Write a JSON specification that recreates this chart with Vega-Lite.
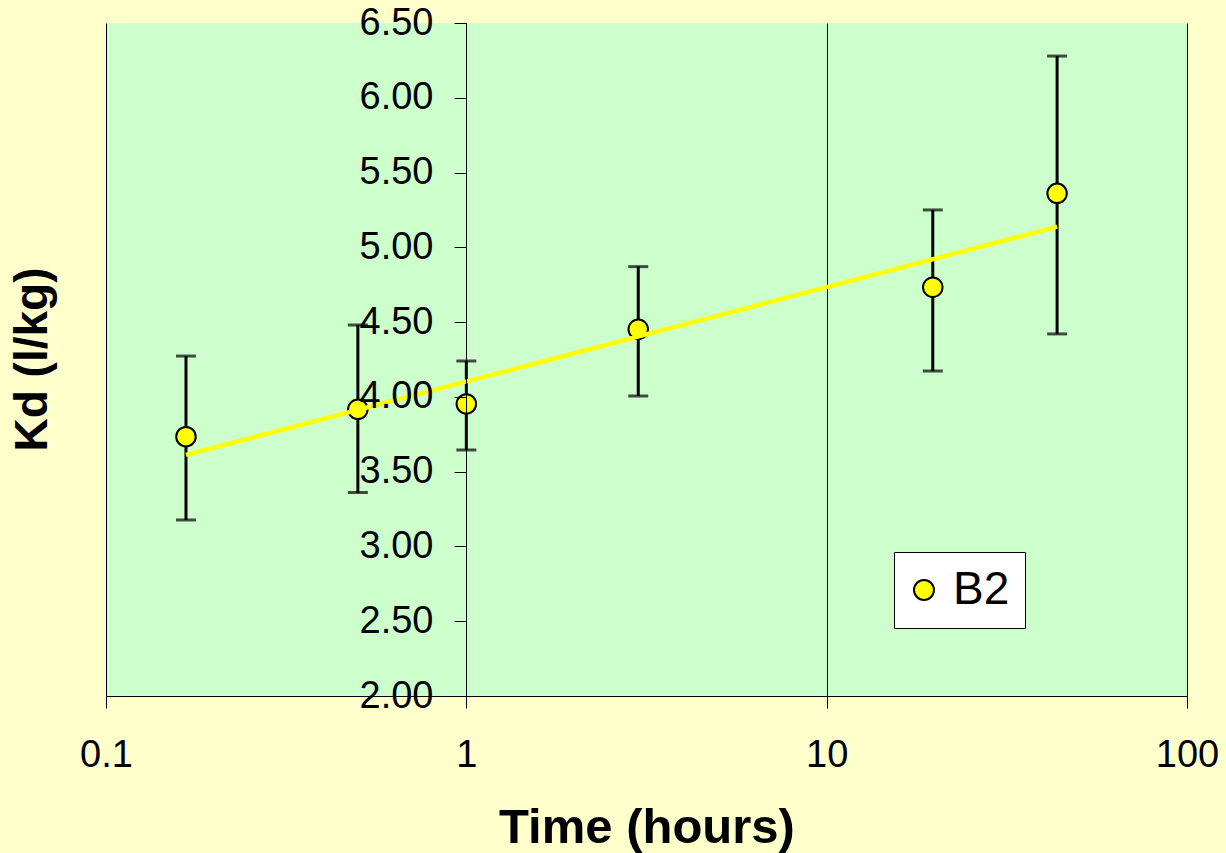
{
  "$schema": "https://vega.github.io/schema/vega-lite/v6.json",
  "width": 1081,
  "height": 673,
  "autosize": {"type": "none"},
  "padding": {"left": 106, "top": 23, "right": 39, "bottom": 157},
  "background": "#FFFFCC",
  "config": {
    "view": {"fill": "#CCFFCC", "stroke": null},
    "font": "Liberation Sans"
  },
  "datasets": {
    "obs": [
      {"t": 0.1667, "kd": 3.734, "lo": 3.177, "hi": 4.273, "series": "B2"},
      {"t": 0.5, "kd": 3.917, "lo": 3.36, "hi": 4.481, "series": "B2"},
      {"t": 1.0, "kd": 3.953, "lo": 3.645, "hi": 4.24, "series": "B2"},
      {"t": 3.0, "kd": 4.452, "lo": 4.006, "hi": 4.871, "series": "B2"},
      {"t": 19.7, "kd": 4.733, "lo": 4.173, "hi": 5.25, "series": "B2"},
      {"t": 43.6, "kd": 5.361, "lo": 4.421, "hi": 6.279, "series": "B2"}
    ],
    "trend": [
      {"t": 0.1667, "kd": 3.612},
      {"t": 43.6, "kd": 5.138}
    ]
  },
  "layer": [
    {
      "data": {"name": "obs"},
      "mark": {
        "type": "errorbar",
        "orient": "vertical",
        "ticks": {"size": 20, "thickness": 3, "color": "#000000"},
        "rule": {"strokeWidth": 3, "color": "#000000"}
      },
      "encoding": {
        "x": {
          "field": "t",
          "type": "quantitative",
          "scale": {"type": "log", "domain": [0.1, 100], "nice": false},
          "axis": {
            "orient": "bottom",
            "values": [0.1, 1, 10, 100],
            "format": "~g",
            "grid": true,
            "gridColor": "#000000",
            "gridWidth": 1,
            "gridOpacity": 1,
            "domainColor": "#000000",
            "domainWidth": 1,
            "tickColor": "#000000",
            "tickSize": 12,
            "tickWidth": 1,
            "labelFontSize": 38,
            "labelFont": "Liberation Sans",
            "labelColor": "#000000",
            "labelPadding": 28,
            "labelFlush": false,
            "labelOverlap": false,
            "title": "Time (hours)",
            "titleFont": "Liberation Sans",
            "titleFontSize": 49,
            "titleFontWeight": "bold",
            "titleColor": "#000000",
            "titleBaseline": "alphabetic",
            "titleY": 146
          }
        },
        "y": {
          "field": "lo",
          "type": "quantitative",
          "scale": {"domain": [2, 6.5], "nice": false, "zero": false},
          "axis": {
            "orient": "left",
            "offset": -360,
            "values": [2, 2.5, 3, 3.5, 4, 4.5, 5, 5.5, 6, 6.5],
            "format": ".2f",
            "grid": false,
            "domainColor": "#000000",
            "domainWidth": 1,
            "tickColor": "#000000",
            "tickSize": 12,
            "tickWidth": 1,
            "labelFontSize": 38,
            "labelFont": "Liberation Sans",
            "labelColor": "#000000",
            "labelPadding": 21,
            "labelFlush": false,
            "labelOverlap": false,
            "title": "Kd (l/kg)",
            "titleFont": "Liberation Sans",
            "titleFontSize": 46,
            "titleFontWeight": "bold",
            "titleColor": "#000000",
            "titleAngle": 270,
            "titleAlign": "center",
            "titleBaseline": "alphabetic",
            "titleX": -420,
            "titleY": 336,
            "zindex": 1
          }
        },
        "y2": {"field": "hi"}
      }
    },
    {
      "data": {"name": "obs"},
      "mark": {"type": "point", "filled": true, "stroke": "#000000", "strokeWidth": 2, "size": 380, "opacity": 1, "shape": "circle"},
      "encoding": {
        "x": {"field": "t", "type": "quantitative"},
        "y": {"field": "kd", "type": "quantitative"},
        "fill": {
          "field": "series",
          "type": "nominal",
          "scale": {"range": ["#FFFF00"]},
          "legend": {
            "orient": "none",
            "legendX": 788,
            "legendY": 529,
            "title": null,
            "fillColor": "#FFFFFF",
            "strokeColor": "#000000",
            "padding": 15,
            "labelFontSize": 46,
            "labelFont": "Liberation Sans",
            "labelColor": "#000000",
            "labelOffset": 6,
            "symbolOffset": -8,
            "symbolType": "circle",
            "symbolSize": 400,
            "symbolStrokeColor": "#000000",
            "symbolStrokeWidth": 2,
            "symbolFillColor": "#FFFF00"
          }
        }
      }
    },
    {
      "data": {"name": "trend"},
      "mark": {"type": "line", "color": "#FFFF00", "strokeWidth": 4.5},
      "encoding": {
        "x": {"field": "t", "type": "quantitative"},
        "y": {"field": "kd", "type": "quantitative"}
      }
    }
  ]
}
